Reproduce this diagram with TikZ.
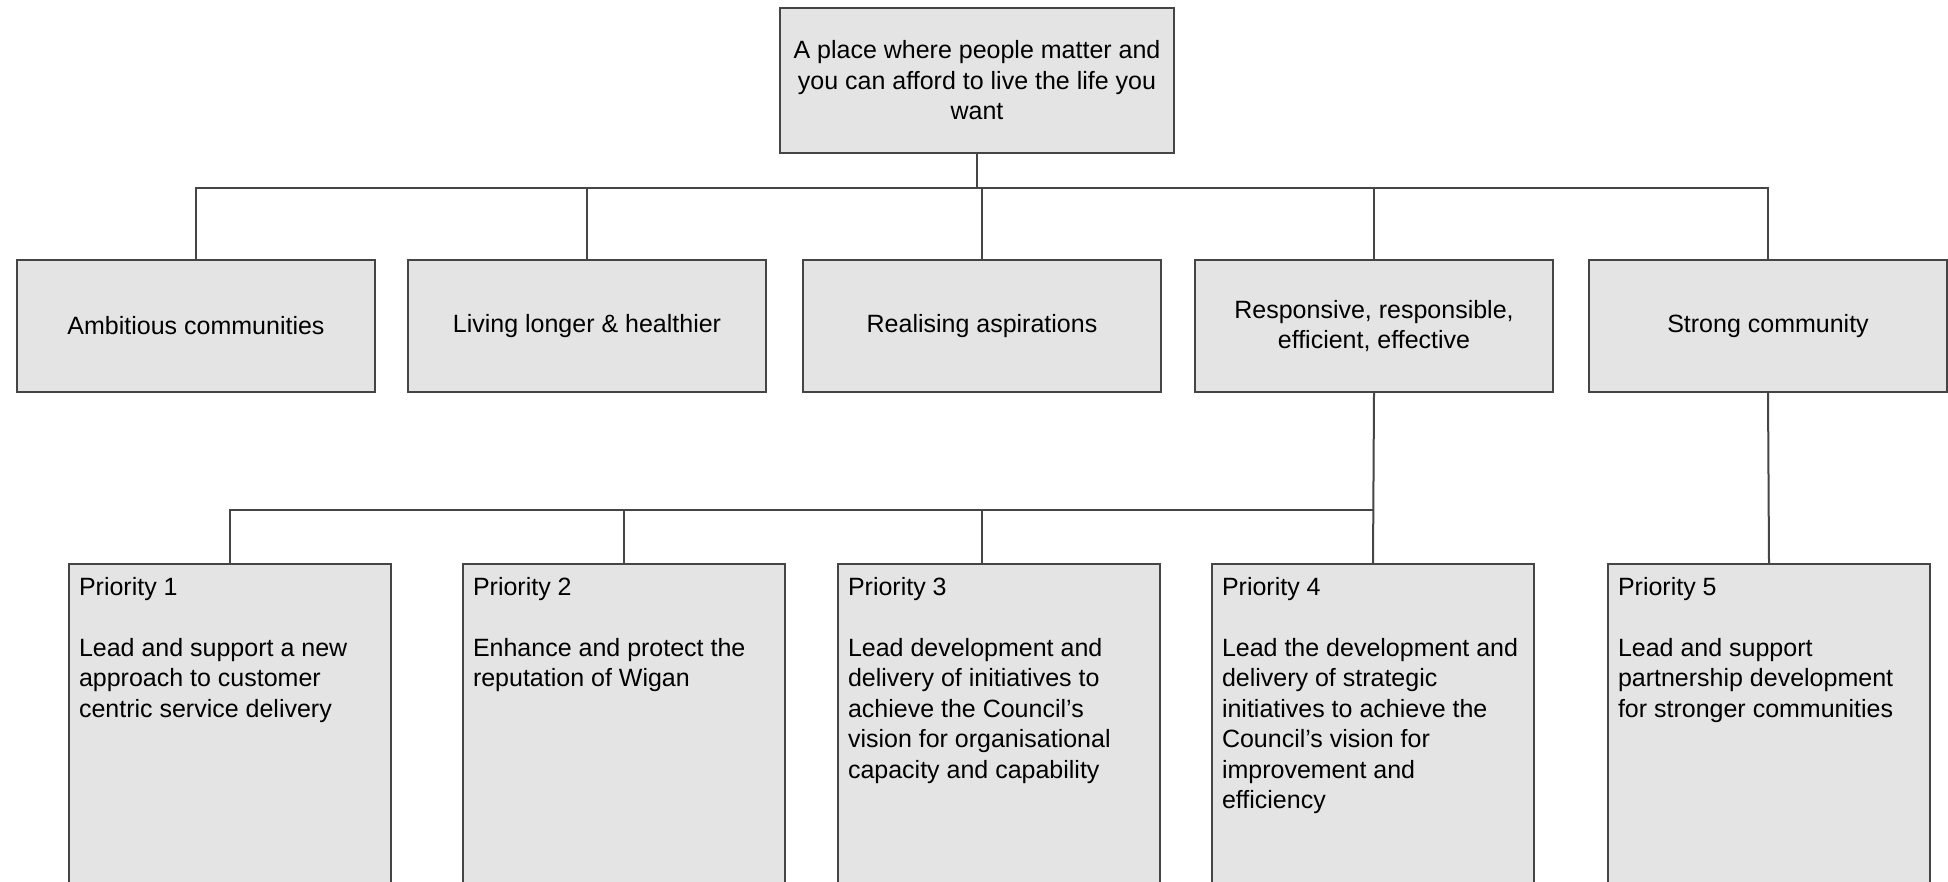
\documentclass[tikz,border=0pt]{standalone}
\usepackage{fontspec}
\setmainfont{Liberation Sans}
\definecolor{boxgray}{HTML}{E4E4E4}
\definecolor{linegray}{HTML}{454545}

\begin{document}
\begin{tikzpicture}[x=1pt,y=-1pt,
    frame/.style={rectangle,draw=linegray,fill=boxgray,line width=2pt,anchor=north west,font=\fontsize{25}{30.5}\selectfont},
    box/.style={frame,align=center,minimum width=358pt,minimum height=132pt},
    prio/.style={frame,inner xsep=10pt,inner ysep=13pt},
    link/.style={draw=linegray,line width=2pt}]
    \clip (0,0) rectangle (1948,882);
    \fill[white] (0,0) rectangle (1948,882);
    \node (vision) at (779,7) [frame,align=center,minimum width=394pt,minimum height=145pt] {A place where people matter and\\you can afford to live the life you\\want};
    \node (amb) at (16,259) [box] {Ambitious communities};
    \node (liv) at (407,259) [box] {Living longer \& healthier};
    \node (real) at (802,259) [box] {Realising aspirations};
    \node (resp) at (1194,259) [box] {Responsive, responsible,\\efficient, effective};
    \node (strong) at (1588,259) [box] {Strong community};
    \node (p1) at (68,563) [prio] {\parbox[t][330pt][t]{302pt}{Priority 1\\[30.5pt]Lead and support a new\\approach to customer\\centric service delivery}};
    \node (p2) at (462,563) [prio] {\parbox[t][330pt][t]{302pt}{Priority 2\\[30.5pt]Enhance and protect the\\reputation of Wigan}};
    \node (p3) at (837,563) [prio] {\parbox[t][330pt][t]{302pt}{Priority 3\\[30.5pt]Lead development and\\delivery of initiatives to\\achieve the Council's\\vision for organisational\\capacity and capability}};
    \node (p4) at (1211,563) [prio] {\parbox[t][330pt][t]{302pt}{Priority 4\\[30.5pt]Lead the development and\\delivery of strategic\\initiatives to achieve the\\Council's vision for\\improvement and\\efficiency}};
    \node (p5) at (1607,563) [prio] {\parbox[t][330pt][t]{302pt}{Priority 5\\[30.5pt]Lead and support\\partnership development\\for stronger communities}};
    \coordinate (topbus) at (979,188);
    \coordinate (lowbus) at (1373,510);
    \draw[link] (vision.south) -- (vision.south |- topbus);
    \draw[link] (amb.north) |- (topbus) -| (strong.north);
    \draw[link] (liv.north) -- (liv.north |- topbus);
    \draw[link] (real.north) -- (real.north |- topbus);
    \draw[link] (resp.north) -- (resp.north |- topbus);
    \draw[link] (resp.south) -- (p4.north);
    \draw[link] (p1.north) |- (lowbus);
    \draw[link] (p2.north) -- (p2.north |- lowbus);
    \draw[link] (p3.north -| real.south) -- (real.south |- lowbus);
    \draw[link] (strong.south) -- (p5.north);
\end{tikzpicture}
\end{document}
